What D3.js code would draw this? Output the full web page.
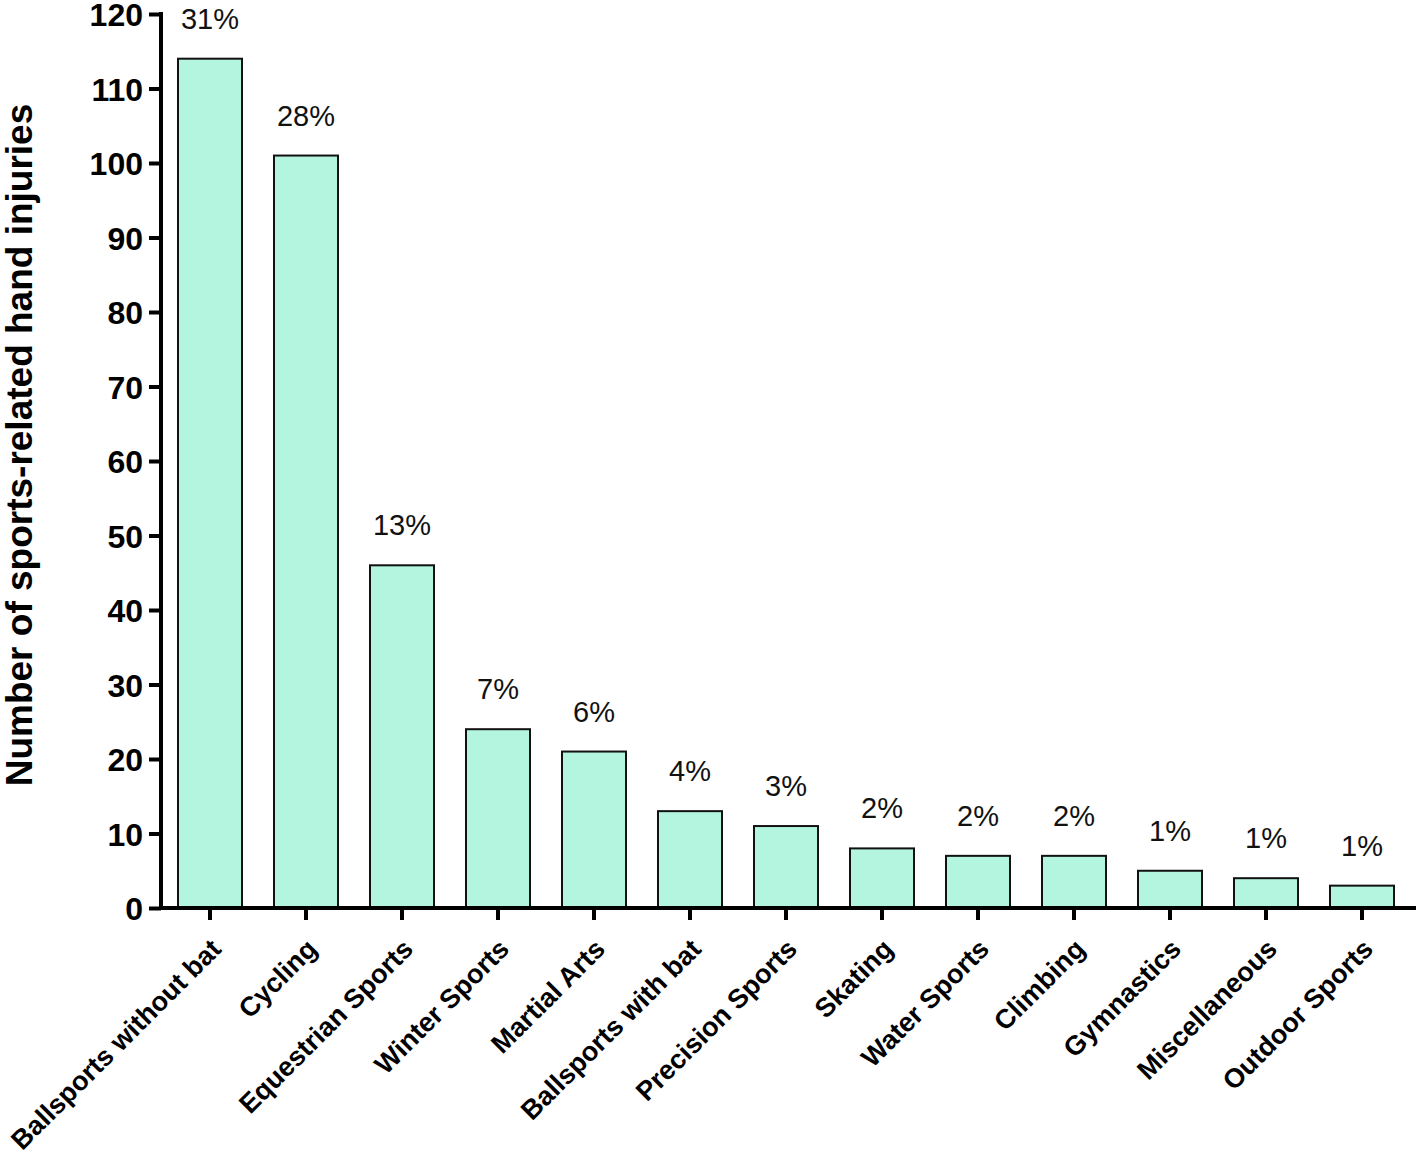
<!DOCTYPE html>
<html><head><meta charset="utf-8">
<script src="https://cdn.jsdelivr.net/npm/d3@7"></script>
<style>body{margin:0;background:#fff}svg{display:block}text{font-family:"Liberation Sans",Arial,sans-serif}</style>
</head><body>
<svg id="c" width="1418" height="1150"></svg>
<script>
const categories = ["Ballsports without bat","Cycling","Equestrian Sports","Winter Sports","Martial Arts","Ballsports with bat","Precision Sports","Skating","Water Sports","Climbing","Gymnastics","Miscellaneous","Outdoor Sports"];
const values = [114,101,46,24,21,13,11,8,7,7,5,4,3];
const percents = ["31%","28%","13%","7%","6%","4%","3%","2%","2%","2%","1%","1%","1%"];
const yTicks = [0,10,20,30,40,50,60,70,80,90,100,110,120];
const yTitle = "Number of sports-related hand injuries";

const svg = d3.select("#c");
const x = d3.scaleBand().domain(categories).range([162,1410]).paddingInner(1/3).paddingOuter(1/6);
const y = d3.scaleLinear().domain([0,120]).range([908,14]);

svg.selectAll("rect.bar").data(values).enter().append("rect")
  .attr("class","bar")
  .attr("x",(d,i)=>x(categories[i]))
  .attr("width",x.bandwidth())
  .attr("y",d=>y(d))
  .attr("height",d=>y(0)-y(d))
  .attr("fill","#b3f5de").attr("stroke","#111").attr("stroke-width",2);

svg.selectAll("text.pct").data(percents).enter().append("text")
  .attr("class","pct")
  .attr("x",(d,i)=>x(categories[i])+x.bandwidth()/2)
  .attr("y",(d,i)=>y(values[i])-30)
  .attr("text-anchor","middle").attr("font-size",29).attr("fill","#111")
  .text(d=>d);

const yAxis = svg.append("g").attr("transform","translate(161,0)")
  .call(d3.axisLeft(y).tickValues(yTicks).tickSize(12).tickPadding(6).tickFormat(d3.format("d")));
yAxis.select(".domain").attr("d","M0,"+(y(120)-2)+"V"+(y(0)+2)).attr("stroke","#000").attr("stroke-width",4);
yAxis.selectAll(".tick line").attr("stroke","#000").attr("stroke-width",4);
yAxis.selectAll(".tick text").attr("font-size",32).attr("font-weight","bold").attr("fill","#000")
  .attr("font-family","Liberation Sans, Arial, sans-serif").attr("dy","0.36em");

const xAxis = svg.append("g").attr("transform","translate(0,908)")
  .call(d3.axisBottom(x).tickSize(12).tickPadding(6));
xAxis.select(".domain").attr("d","M159,0H1416").attr("stroke","#000").attr("stroke-width",4);
xAxis.selectAll(".tick line").attr("stroke","#000").attr("stroke-width",4);
xAxis.selectAll(".tick text")
  .attr("font-size",27).attr("font-weight","bold").attr("fill","#000")
  .attr("font-family","Liberation Sans, Arial, sans-serif")
  .attr("text-anchor","end").attr("dy","0.35em")
  .attr("transform","translate(6,36) rotate(-45)")
  .attr("y",0).attr("x",0);

svg.append("text")
  .attr("transform","translate(32,445) rotate(-90)")
  .attr("text-anchor","middle").attr("font-size",37).attr("font-weight","bold").attr("fill","#000")
  .text(yTitle);
</script>
</body></html>
